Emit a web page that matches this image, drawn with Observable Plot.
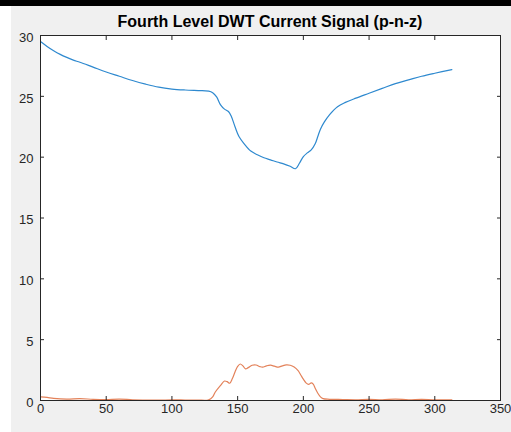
<!DOCTYPE html>
<html>
<head>
<meta charset="utf-8">
<script src="https://cdn.jsdelivr.net/npm/d3@7"></script>
<script src="https://cdn.jsdelivr.net/npm/@observablehq/plot@0.6"></script>
<style>
  html, body { margin: 0; padding: 0; width: 511px; height: 432px; overflow: hidden; background: #f0f0f0; }
  #topbar { position: absolute; left: 0; top: 0; width: 511px; height: 6px; background: #000; }
  #leftstrip { position: absolute; left: 0; top: 6px; width: 11px; height: 426px; background: #fff; }
  #title { position: absolute; left: 40px; width: 460px; top: 13px; line-height: 18px; text-align: center;
           font: bold 16px "Liberation Sans", Arial, sans-serif; color: #000; }
  #chart { position: absolute; left: 0; top: 0; }
</style>
</head>
<body>
<div id="topbar"></div>
<div id="leftstrip"></div>
<div id="chart"></div>
<div id="title">Fourth Level DWT Current Signal (p-n-z)</div>
<script>
const xTicks = [0, 50, 100, 150, 200, 250, 300, 350];
const yTicks = [0, 5, 10, 15, 20, 25, 30];

// Series p (blue)
const pX = [0,5,10,15,20,25,30,40,50,60,70,80,90,100,110,120,128,131,134,137,140,143,145,148,151,155,160,165,170,175,180,185,190,194,197,200,203,206,209,211,213,216,220,226,232,240,250,260,270,280,290,300,313];
const pY = [29.5,29.1,28.75,28.45,28.2,27.98,27.8,27.4,27.0,26.65,26.3,26.0,25.75,25.6,25.52,25.47,25.43,25.3,24.95,24.3,23.95,23.75,23.4,22.5,21.7,21.1,20.5,20.2,19.95,19.78,19.6,19.45,19.25,19.05,19.5,20.05,20.35,20.6,21.1,21.7,22.3,22.9,23.5,24.15,24.5,24.85,25.25,25.65,26.05,26.35,26.65,26.9,27.2];

// Series n (orange)
const nX = [0,5,10,20,30,40,50,60,70,80,90,100,110,120,126,128,131,133,137,140,142,144,146,148,150,152,154,156,158,161,164,167,169,172,175,178,181,184,187,190,193,196,198,200,202,204,206,207.5,209,211,213,215,220,230,240,250,260,270,280,290,300,313];
const nY = [0.3,0.25,0.18,0.12,0.15,0.1,0.08,0.12,0.06,0.04,0.03,0.05,0.04,0.03,0.02,0.05,0.3,0.7,1.25,1.6,1.55,1.42,1.8,2.35,2.8,3.0,2.85,2.6,2.7,2.9,2.92,2.78,2.74,2.85,2.9,2.82,2.74,2.85,2.93,2.9,2.75,2.45,2.1,1.75,1.45,1.32,1.45,1.35,1.0,0.6,0.3,0.15,0.1,0.08,0.06,0.1,0.05,0.12,0.06,0.1,0.05,0.06];

// Series z (yellow)
const zX = [0, 313];
const zY = [0, 0];

const toRows = (xs, ys) => xs.map((x, i) => ({x, y: ys[i]}));
const pData = toRows(pX, pY);
const nData = toRows(nX, nY);
const zData = toRows(zX, zY);

const axisColor = "#262626";
const font = '"Liberation Sans", Arial, sans-serif';

const chart = Plot.plot({
  width: 511,
  height: 432,
  marginLeft: 40,
  marginRight: 11,
  marginTop: 35,
  marginBottom: 32,
  style: { background: "transparent", fontFamily: font, fontSize: "13px", color: axisColor, overflow: "visible" },
  x: { domain: [0, 350], label: null },
  y: { domain: [0, 30], label: null },
  marks: [
    Plot.frame({ fill: "white", stroke: null }),
    Plot.line(zData, { x: "x", y: "y", stroke: "#EDB120", strokeWidth: 1.2 }),
    Plot.line(nData, { x: "x", y: "y", stroke: "#E3825A", strokeWidth: 1.2, curve: "catmull-rom" }),
    Plot.line(pData, { x: "x", y: "y", stroke: "#2E89CF", strokeWidth: 1.2, curve: "catmull-rom" }),
    Plot.frame({ stroke: axisColor, strokeWidth: 1 }),
    Plot.axisX({ anchor: "bottom", ticks: xTicks, tickSize: -4, text: null, stroke: axisColor }),
    Plot.axisX({ anchor: "top", ticks: xTicks, tickSize: -4, text: null, stroke: axisColor }),
    Plot.axisX({ anchor: "bottom", ticks: xTicks, tickSize: 0, tickPadding: 3, fontSize: 13, fill: axisColor }),
    Plot.axisY({ anchor: "left", ticks: yTicks, tickSize: -4, text: null, stroke: axisColor }),
    Plot.axisY({ anchor: "right", ticks: yTicks, tickSize: -4, text: null, stroke: axisColor }),
    Plot.axisY({ anchor: "left", ticks: yTicks, tickSize: 0, tickPadding: 7, dy: 2, fontSize: 13, fill: axisColor })
  ]
});
document.getElementById("chart").appendChild(chart);
</script>
</body>
</html>
